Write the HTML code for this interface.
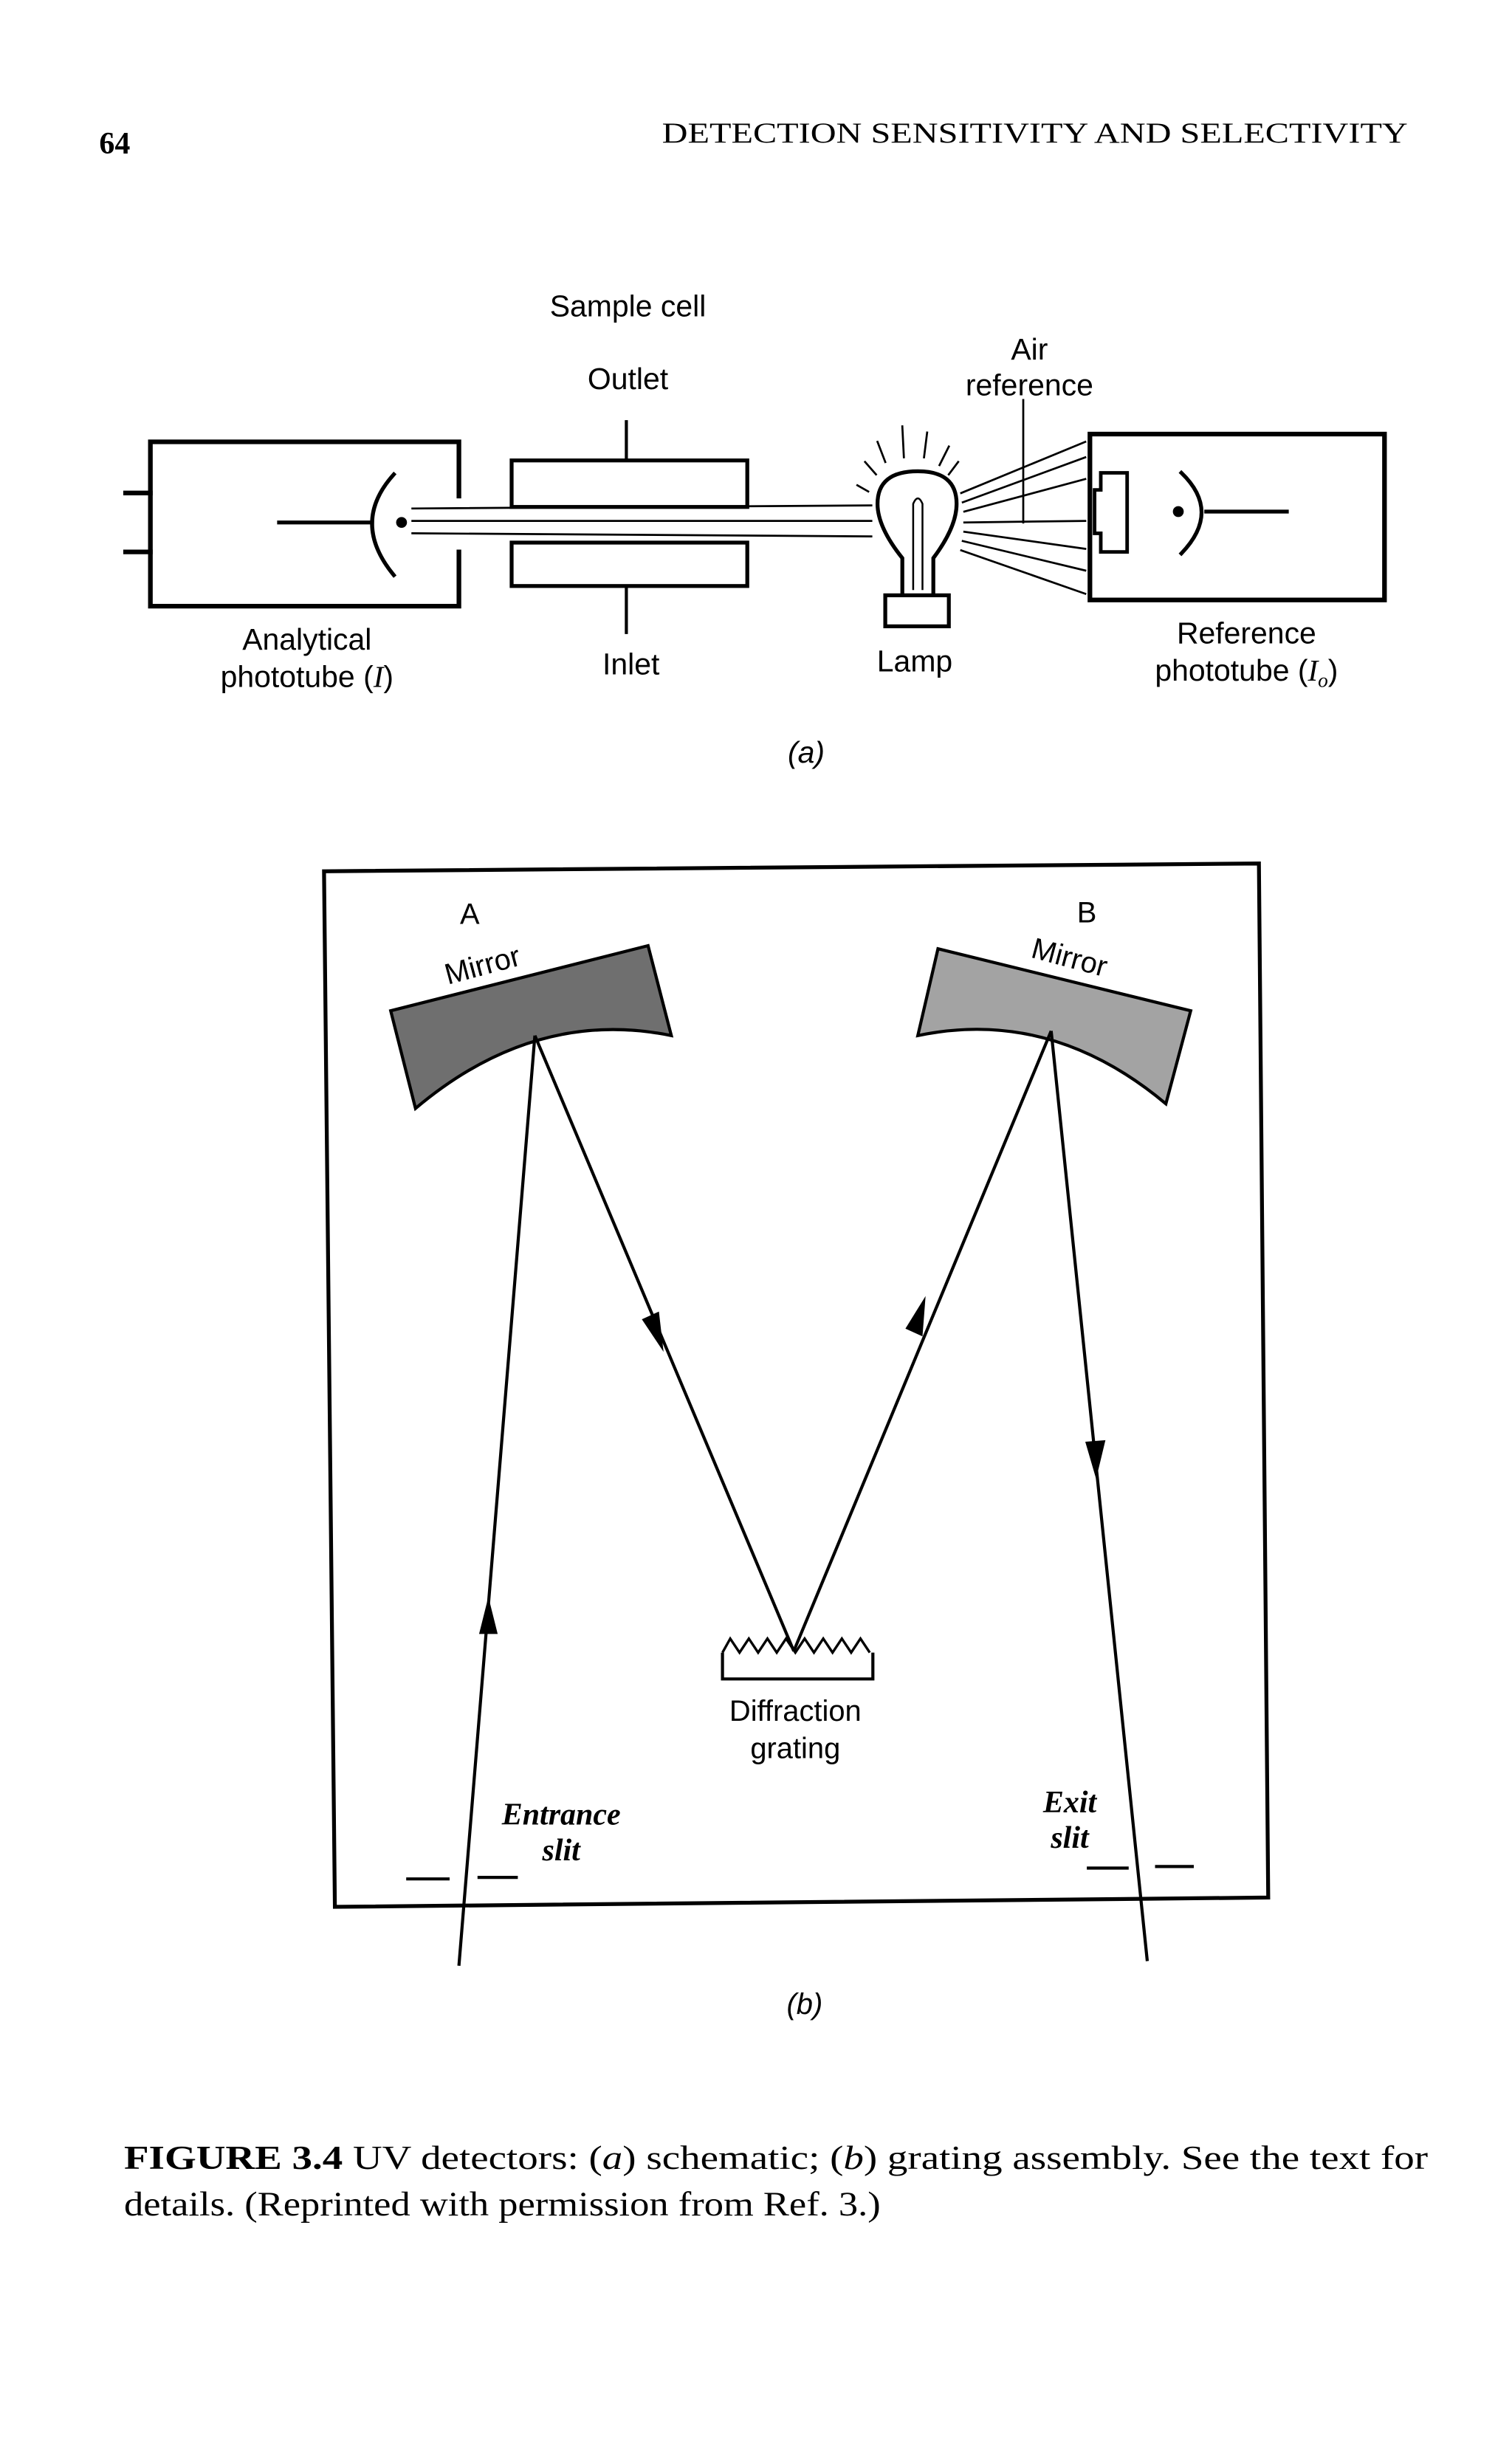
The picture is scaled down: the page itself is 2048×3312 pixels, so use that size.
<!DOCTYPE html>
<html><head><meta charset="utf-8"><style>
html,body{margin:0;padding:0;background:#fff}
svg{display:block}
.s{font-family:"Liberation Sans",sans-serif;fill:#000}
.r{font-family:"Liberation Serif",serif;fill:#000}
</style></head><body>
<svg width="2048" height="3312" viewBox="0 0 975.24 1577.14" xmlns="http://www.w3.org/2000/svg">
<rect width="975.24" height="1577.14" fill="#fff"/>
<text class="r" x="64" y="99" font-size="20" font-weight="bold">64</text>
<text class="r" x="427" y="92" font-size="18.5" textLength="481" lengthAdjust="spacingAndGlyphs">DETECTION SENSITIVITY AND SELECTIVITY</text>

<g stroke="#000" fill="none" stroke-linecap="square">
<path d="M296 320 L296 285 L97 285 L97 391 L296 391 L296 356" stroke-width="3"/>
<line x1="81" y1="318" x2="97" y2="318" stroke-width="3"/>
<line x1="81" y1="356" x2="97" y2="356" stroke-width="3"/>
<path d="M254 306 Q226 337 254 371" stroke-width="2.5"/>
<line x1="180" y1="337" x2="240" y2="337" stroke-width="2.5"/>
<line x1="266" y1="328" x2="562" y2="326" stroke-width="1.3"/>
<line x1="266" y1="336" x2="562" y2="336" stroke-width="1.3"/>
<line x1="266" y1="344" x2="562" y2="346" stroke-width="1.3"/>
<rect x="330" y="297" width="152" height="30" stroke-width="2.5"/>
<rect x="330" y="350" width="152" height="28" stroke-width="2.5"/>
<line x1="404" y1="272" x2="404" y2="297" stroke-width="2"/>
<line x1="404" y1="378" x2="404" y2="408" stroke-width="2"/>
<path d="M582 382 L582 360 Q566 340 566 325 Q566 304 592 304 Q617 304 617 325 Q617 340 602 360 L602 382" stroke-width="2.5"/>
<path d="M589 380 L589 325 Q592 318 595 325 L595 380" stroke-width="1.2"/>
<rect x="571" y="384" width="41" height="20" stroke-width="2.5"/>
<g stroke-width="1.3">
<line x1="565" y1="306" x2="558" y2="298"/><line x1="560" y1="317" x2="553" y2="313"/>
<line x1="571" y1="298" x2="566" y2="285"/><line x1="583" y1="295" x2="582" y2="275"/>
<line x1="596" y1="295" x2="598" y2="279"/><line x1="606" y1="300" x2="612" y2="288"/>
<line x1="612" y1="306" x2="618" y2="298"/>
<line x1="620" y1="318" x2="700" y2="285"/><line x1="621" y1="324" x2="700" y2="295"/>
<line x1="622" y1="330" x2="700" y2="309"/><line x1="622" y1="337" x2="700" y2="336"/>
<line x1="622" y1="343" x2="700" y2="354"/><line x1="621" y1="349" x2="700" y2="368"/>
<line x1="620" y1="355" x2="700" y2="383"/>
<line x1="660" y1="258" x2="660" y2="337"/>
</g>
<rect x="703" y="280" width="190" height="107" stroke-width="3"/>
<path d="M706 316 L710 316 L710 305 L727 305 L727 356 L710 356 L710 344 L706 344 Z" stroke-width="2.3"/>
<path d="M762 305 Q788 330 762 357" stroke-width="2.5"/>
<line x1="778" y1="330" x2="830" y2="330" stroke-width="2.5"/>
</g>
<circle cx="259" cy="337" r="3.5"/>
<circle cx="760" cy="330" r="3.5"/>
<g class="s" font-size="19.5" text-anchor="middle" font-weight="500">
<text x="405" y="204">Sample cell</text>
<text x="405" y="251">Outlet</text>
<text x="664" y="232">Air</text>
<text x="664" y="255">reference</text>
<text x="198" y="419">Analytical</text>
<text x="198" y="443">phototube (<tspan font-style="italic" font-family="Liberation Serif">I</tspan>)</text>
<text x="407" y="435">Inlet</text>
<text x="590" y="433">Lamp</text>
<text x="804" y="415">Reference</text>
<text x="804" y="439">phototube (<tspan font-style="italic" font-family="Liberation Serif">I<tspan font-size="13" dy="4">o</tspan></tspan><tspan dy="-4">)</tspan></text>
<text x="520" y="492" font-style="italic">(a)</text>
</g>

<polygon points="209,562 812,557 818,1224 216,1230" fill="none" stroke="#000" stroke-width="2.5"/>
<path d="M252 652 L418 610 L433 668 Q345 650 268 715 Z" fill="#6f6f6f" stroke="#000" stroke-width="2"/>
<path d="M605 612 L768 652 L752 712 Q678 650 592 668 Z" fill="#a3a3a3" stroke="#000" stroke-width="2"/>
<g stroke="#000" stroke-width="2" fill="none">
<line x1="296" y1="1268" x2="345" y2="668"/>
<line x1="345" y1="668" x2="512" y2="1065"/>
<line x1="512" y1="1065" x2="678" y2="665"/>
<line x1="678" y1="665" x2="740" y2="1265"/>
<path d="M466 1066 L466 1083 L563 1083 L563 1066" stroke-width="2"/>
<path d="M466 1066 L471 1057 L477 1066 L483 1057 L489 1066 L495 1057 L501 1066 L507 1057 L513 1066 L519 1057 L525 1066 L531 1057 L537 1066 L543 1057 L549 1066 L555 1057 L561 1066" stroke-width="1.6"/>
<line x1="262" y1="1212" x2="290" y2="1212"/><line x1="308" y1="1211" x2="334" y2="1211"/>
<line x1="701" y1="1205" x2="728" y2="1205"/><line x1="745" y1="1204" x2="770" y2="1204"/>
</g>
<g fill="#000">
<polygon points="315,1030 309,1054 321,1054"/>
<polygon points="428,872 414,851 425,846"/>
<polygon points="597,836 584,857 595,862"/>
<polygon points="707,954 700,930 713,929"/>
</g>
<g class="s" font-size="19" text-anchor="middle" font-weight="500">
<text x="303" y="596">A</text>
<text x="701" y="595">B</text>
<text x="311" y="629" transform="rotate(-15 311 622)">Mirror</text>
<text x="690" y="624" transform="rotate(15 690 617)">Mirror</text>
<text x="513" y="1110">Diffraction</text>
<text x="513" y="1134">grating</text>
<text x="519" y="1299" font-style="italic">(b)</text>
</g>
<g class="r" font-size="20" font-style="italic" font-weight="bold" text-anchor="middle">
<text x="362" y="1177">Entrance</text>
<text x="362" y="1200">slit</text>
<text x="690" y="1169">Exit</text>
<text x="690" y="1192">slit</text>
</g>
<text class="r" x="80" y="1399" font-size="21.5" textLength="841" lengthAdjust="spacingAndGlyphs"><tspan font-weight="bold">FIGURE 3.4</tspan>  UV detectors: (<tspan font-style="italic">a</tspan>) schematic; (<tspan font-style="italic">b</tspan>) grating assembly. See the text for</text>
<text class="r" x="80" y="1429" font-size="22" textLength="488" lengthAdjust="spacingAndGlyphs">details. (Reprinted with permission from Ref. 3.)</text>
</svg>
</body></html>
